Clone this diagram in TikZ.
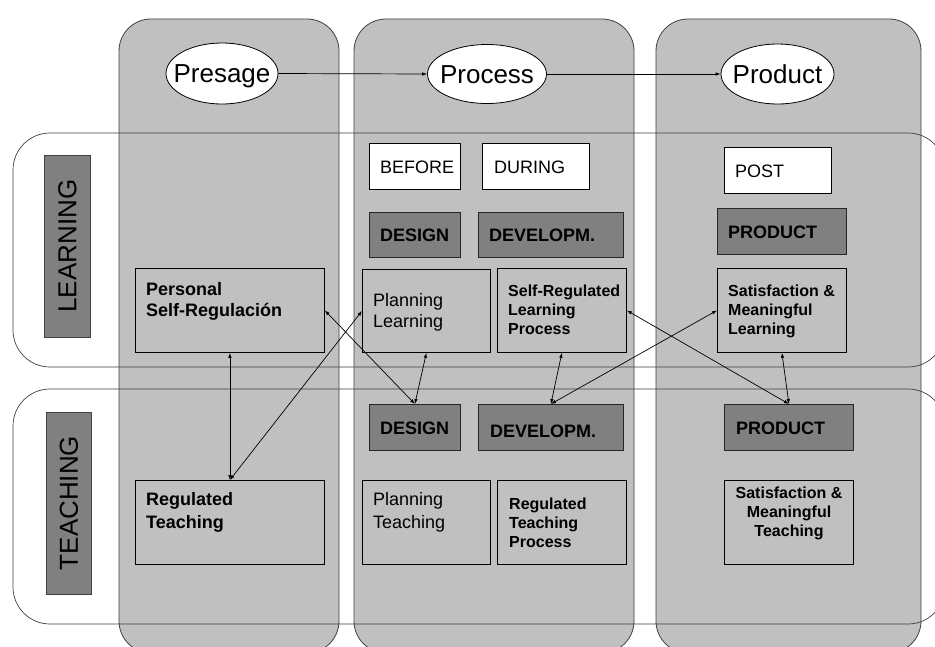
\documentclass[tikz,border=0pt]{standalone}
\usepackage{fontspec}
\setmainfont{Liberation Sans}
\usetikzlibrary{shapes.geometric,arrows.meta}
\definecolor{colgray}{HTML}{C0C0C0}
\definecolor{boxdark}{HTML}{808080}
\definecolor{edgegray}{HTML}{404040}
\begin{document}
\begin{tikzpicture}[x=1pt,y=-1pt,
  col/.style={draw=edgegray, fill=colgray, line width=0.8pt, rounded corners=32pt},
  band/.style={draw=edgegray, line width=0.7pt, rounded corners=37pt},
  phase/.style={ellipse, draw=black, fill=white, line width=0.8pt, font=\fontsize{26}{30}\selectfont, inner xsep=-20pt, inner ysep=0pt, text height=18.6pt, text depth=0pt},
  rowlab/.style={draw=edgegray, fill=boxdark, line width=0.8pt, rotate=90, font=\fontsize{26}{30}\selectfont, text height=18.6pt, text depth=0pt, inner sep=0pt},
  wbox/.style={draw=black, fill=white, line width=0.8pt, anchor=north west, inner sep=0pt},
  dbox/.style={draw=black!85, fill=boxdark, line width=0.8pt, anchor=north west, inner sep=0pt},
  obox/.style={draw=black, line width=0.8pt, anchor=north west, inner sep=0pt},
  lab/.style={font=\fontsize{18}{21.5}\selectfont, inner sep=0pt},
  blab/.style={font=\fontsize{18}{21.5}\selectfont\bfseries, inner sep=0pt},
  slab/.style={font=\fontsize{16}{19}\selectfont\bfseries, inner sep=0pt, align=left, anchor=north west},
  link/.style={<->, >={Latex[length=5pt,width=3.5pt]}, line width=0.7pt},
  flow/.style={->, >={Latex[length=5pt,width=3.5pt]}, line width=0.7pt}
]
\useasboundingbox (0,0) rectangle (935,646);
\fill[white] (0,0) rectangle (935,646);
% columns
\draw[col] (119,19) rectangle (339,653);
\draw[col] (354,19) rectangle (634,653);
\draw[col] (656,19) rectangle (921,653);
% bands
\draw[band] (13,133) rectangle (945,367);
\draw[band] (13,389) rectangle (945,624);
% phases
\node[phase, minimum width=112, minimum height=61] (pre) at (222,73.5) {Presage};
\node[phase, minimum width=119, minimum height=59] (proc) at (487,74) {Process};
\node[phase, minimum width=113, minimum height=60] (prod) at (777.5,74) {Product};
\draw[flow] (pre.east) -- (proc.west);
\draw[flow] (proc.east) -- (prod.west);
% row labels
\node[rowlab, minimum width=182, minimum height=46] (learn) at (67,246) {LEARNING};
\node[rowlab, minimum width=182, minimum height=45] (teach) at (68.5,503) {TEACHING};
% learning row
\node[wbox, minimum width=91, minimum height=46] (before) at (369,143) {};
\node[lab, anchor=base west] at (380,173) {BEFORE};
\node[wbox, minimum width=107, minimum height=46] (during) at (482,143) {};
\node[lab, anchor=base west] at (494,173) {DURING};
\node[wbox, minimum width=107, minimum height=46] (post) at (724,147) {};
\node[lab, anchor=base west] at (735,177) {POST};
\node[dbox, minimum width=91, minimum height=45] (desL) at (369,212) {};
\node[blab, anchor=base west] at (380,241) {DESIGN};
\node[dbox, minimum width=145, minimum height=45] (devL) at (478,212) {};
\node[blab, anchor=base west] at (489,241) {DEVELOPM.};
\node[dbox, minimum width=129, minimum height=46] (prodL) at (717,208) {};
\node[blab, anchor=base west] at (728,238) {PRODUCT};
\node[obox, minimum width=189, minimum height=84] (psr) at (135,268) {};
\node[blab, align=left, anchor=north west] at (146,282) {Personal\\Self-Regulación};
\node[obox, minimum width=128, minimum height=83] (pl) at (362,269) {};
\node[lab, align=left, anchor=north west] at (373,293) {Planning\\Learning};
\node[obox, minimum width=129, minimum height=84] (srl) at (497,268) {};
\node[slab] at (508,285) {Self-Regulated\\Learning\\Process};
\node[obox, minimum width=129, minimum height=84] (sml) at (717,268) {};
\node[slab] at (728,285) {Satisfaction \&\\Meaningful\\Learning};
% teaching row
\node[dbox, minimum width=91, minimum height=46] (desT) at (369,404) {};
\node[blab, anchor=base west] at (380,434) {DESIGN};
\node[dbox, minimum width=145, minimum height=46] (devT) at (478,404) {};
\node[blab, anchor=base west] at (490,437) {DEVELOPM.};
\node[dbox, minimum width=129, minimum height=46] (prodT) at (724,404) {};
\node[blab, anchor=base west] at (736,434) {PRODUCT};
\node[obox, minimum width=189, minimum height=84] (rt) at (135,480) {};
\node[blab, align=left, anchor=north west] at (146,492) {Regulated\\[1.5pt]Teaching};
\node[obox, minimum width=128, minimum height=84] (pt) at (362,480) {};
\node[lab, align=left, anchor=north west] at (373,492) {Planning\\[1.5pt]Teaching};
\node[obox, minimum width=129, minimum height=84] (rtp) at (497,480) {};
\node[slab] at (509,498) {Regulated\\Teaching\\Process};
\node[obox, minimum width=129, minimum height=84] (smt) at (724,480) {};
\node[slab, align=center, anchor=north] at (789,487) {Satisfaction \&\\Meaningful\\Teaching};
% links
\draw[link] (psr.south) -- (rt.north);
\draw[link] (pl.west) -- (rt.north);
\draw[link] (psr.east) -- (desT.north);
\draw[link] (pl.south) -- (desT.north);
\draw[link] (srl.south) -- (devT.north);
\draw[link] (sml.west) -- (devT.north);
\draw[link] (srl.east) -- (prodT.north);
\draw[link] (sml.south) -- (prodT.north);
\end{tikzpicture}
\end{document}
